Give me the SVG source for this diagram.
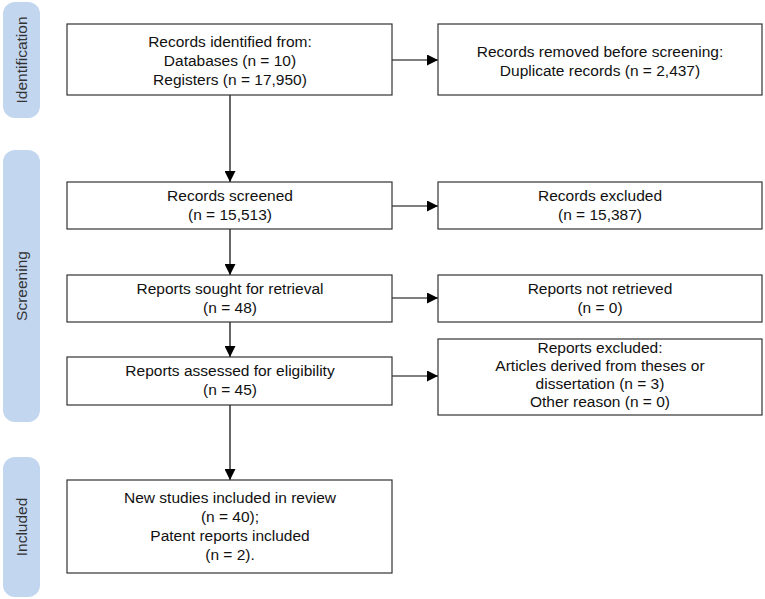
<svg xmlns="http://www.w3.org/2000/svg" width="765" height="599" viewBox="0 0 765 599">
<defs>
<marker id="ah" viewBox="0 0 10 10" refX="10" refY="5" markerWidth="11" markerHeight="11" markerUnits="userSpaceOnUse" orient="auto"><path d="M0,0 L10,5 L0,10 z" fill="#000"/></marker>
<style>
.pill{fill:#c2d6f0;}
.pt{font-family:"Liberation Sans",Arial,sans-serif;font-size:15.5px;fill:#333;text-anchor:middle;}
.box{fill:#fff;stroke:#333;stroke-width:1.2;}
.t{font-family:"Liberation Sans",Arial,sans-serif;font-size:15.5px;fill:#111;text-anchor:middle;}
.c{stroke:#000;stroke-width:1.2;fill:none;marker-end:url(#ah);}
</style>
</defs>
<rect width="765" height="599" fill="#fff"/>
<g id="stage-identification"><rect class="pill" x="3" y="2" width="37" height="116" rx="12"/><text class="pt" transform="translate(27,60) rotate(-90)">Identification</text></g>
<g id="stage-screening"><rect class="pill" x="3" y="150" width="37" height="272" rx="12"/><text class="pt" transform="translate(27,286) rotate(-90)">Screening</text></g>
<g id="stage-included"><rect class="pill" x="3" y="457" width="37" height="140" rx="12"/><text class="pt" transform="translate(27,527) rotate(-90)">Included</text></g>

<g id="connectors">
<line class="c" x1="392" y1="60" x2="438" y2="60"/>
<line class="c" x1="230" y1="95" x2="230" y2="182"/>
<line class="c" x1="392" y1="206" x2="438" y2="206"/>
<line class="c" x1="230" y1="229" x2="230" y2="275"/>
<line class="c" x1="392" y1="298" x2="438" y2="298"/>
<line class="c" x1="230" y1="322" x2="230" y2="357"/>
<line class="c" x1="392" y1="376" x2="438" y2="376"/>
<line class="c" x1="230" y1="405" x2="230" y2="480"/>
</g>

<g id="identified"><rect class="box" x="67" y="24" width="325" height="71"/>
<text class="t" x="230" y="47">Records identified from:</text>
<text class="t" x="230" y="66">Databases (n = 10)</text>
<text class="t" x="230" y="85">Registers (n = 17,950)</text></g>
<g id="removed"><rect class="box" x="438" y="24" width="324" height="71"/>
<text class="t" x="600" y="57">Records removed before screening:</text>
<text class="t" x="600" y="76">Duplicate records (n = 2,437)</text></g>
<g id="screened"><rect class="box" x="67" y="182" width="325" height="47"/>
<text class="t" x="230" y="201">Records screened</text>
<text class="t" x="230" y="220">(n = 15,513)</text></g>
<g id="excluded"><rect class="box" x="438" y="182" width="324" height="47"/>
<text class="t" x="600" y="201">Records excluded</text>
<text class="t" x="600" y="220">(n = 15,387)</text></g>
<g id="sought"><rect class="box" x="67" y="275" width="325" height="47"/>
<text class="t" x="230" y="294">Reports sought for retrieval</text>
<text class="t" x="230" y="313">(n = 48)</text></g>
<g id="notretrieved"><rect class="box" x="438" y="275" width="324" height="47"/>
<text class="t" x="600" y="294">Reports not retrieved</text>
<text class="t" x="600" y="313">(n = 0)</text></g>
<g id="assessed"><rect class="box" x="67" y="357" width="325" height="48"/>
<text class="t" x="230" y="376">Reports assessed for eligibility</text>
<text class="t" x="230" y="395">(n = 45)</text></g>
<g id="reportsexcluded"><rect class="box" x="438" y="339" width="324" height="76"/>
<text class="t" x="600" y="353">Reports excluded:</text>
<text class="t" x="600" y="371">Articles derived from theses or</text>
<text class="t" x="600" y="389">dissertation (n = 3)</text>
<text class="t" x="600" y="407">Other reason (n = 0)</text></g>
<g id="included"><rect class="box" x="67" y="480" width="325" height="93"/>
<text class="t" x="230" y="503">New studies included in review</text>
<text class="t" x="230" y="522">(n = 40);</text>
<text class="t" x="230" y="541">Patent reports included</text>
<text class="t" x="230" y="560">(n = 2).</text></g>
</svg>
